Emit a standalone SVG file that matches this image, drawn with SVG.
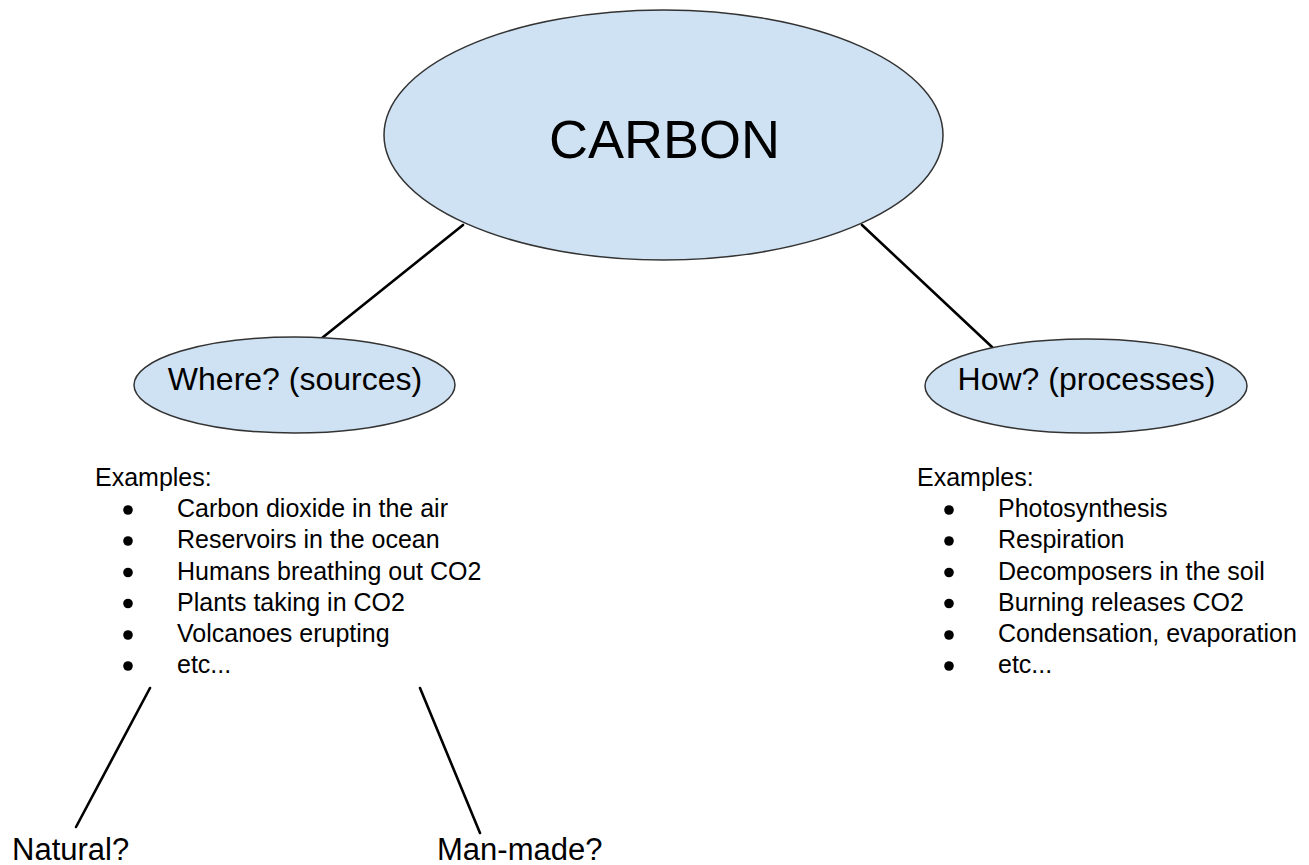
<svg xmlns="http://www.w3.org/2000/svg" width="1309" height="865" viewBox="0 0 1309 865">
<style>
.node{fill:#cfe2f3;stroke:#333;stroke-width:1.5}
.conn line{stroke:#000;stroke-width:2.6;stroke-linecap:round}
text{font-family:"Liberation Sans",Arial,sans-serif;fill:#000}
.big{font-size:54px}
.mid{font-size:32px}
.list{font-size:25px}
.leaf{font-size:31px}
.bul{fill:#000}
</style>
<rect width="1309" height="865" fill="#fff"/>
<g id="connectors" class="conn">
<line x1="463" y1="225" x2="322" y2="338"/>
<line x1="862" y1="225" x2="992" y2="347"/>
<line x1="150" y1="688" x2="76" y2="827"/>
<line x1="420" y1="688" x2="480" y2="833"/>
</g>
<g id="carbon">
<ellipse class="node" cx="663.5" cy="135" rx="279.5" ry="125"/>
<text class="big" x="664.5" y="158" text-anchor="middle">CARBON</text>
</g>
<g id="where">
<ellipse class="node" cx="294.5" cy="385" rx="160.5" ry="48"/>
<text class="mid" x="295" y="390" text-anchor="middle">Where? (sources)</text>
</g>
<g id="how">
<ellipse class="node" cx="1086" cy="386" rx="161" ry="47"/>
<text class="mid" x="1086.5" y="390" text-anchor="middle">How? (processes)</text>
</g>
<g id="where-examples">
<text class="list" x="95" y="486">Examples:</text>
<g class="bul">
<circle cx="128" cy="510" r="4.8"/>
<circle cx="128" cy="541" r="4.8"/>
<circle cx="128" cy="572.5" r="4.8"/>
<circle cx="128" cy="603.5" r="4.8"/>
<circle cx="128" cy="635" r="4.8"/>
<circle cx="128" cy="666" r="4.8"/>
</g>
<text class="list" x="177" y="517">Carbon dioxide in the air</text>
<text class="list" x="177" y="548">Reservoirs in the ocean</text>
<text class="list" x="177" y="579.5">Humans breathing out CO2</text>
<text class="list" x="177" y="610.5">Plants taking in CO2</text>
<text class="list" x="177" y="642">Volcanoes erupting</text>
<text class="list" x="177" y="673">etc...</text>
</g>
<g id="how-examples">
<text class="list" x="917" y="486">Examples:</text>
<g class="bul">
<circle cx="949" cy="510" r="4.8"/>
<circle cx="949" cy="541" r="4.8"/>
<circle cx="949" cy="572.5" r="4.8"/>
<circle cx="949" cy="603.5" r="4.8"/>
<circle cx="949" cy="635" r="4.8"/>
<circle cx="949" cy="666" r="4.8"/>
</g>
<text class="list" x="998" y="517">Photosynthesis</text>
<text class="list" x="998" y="548">Respiration</text>
<text class="list" x="998" y="579.5">Decomposers in the soil</text>
<text class="list" x="998" y="610.5">Burning releases CO2</text>
<text class="list" x="998" y="642">Condensation, evaporation</text>
<text class="list" x="998" y="673">etc...</text>
</g>
<g id="natural">
<text class="leaf" x="12" y="860">Natural?</text>
</g>
<g id="man-made">
<text class="leaf" x="437" y="860">Man-made?</text>
</g>
</svg>
